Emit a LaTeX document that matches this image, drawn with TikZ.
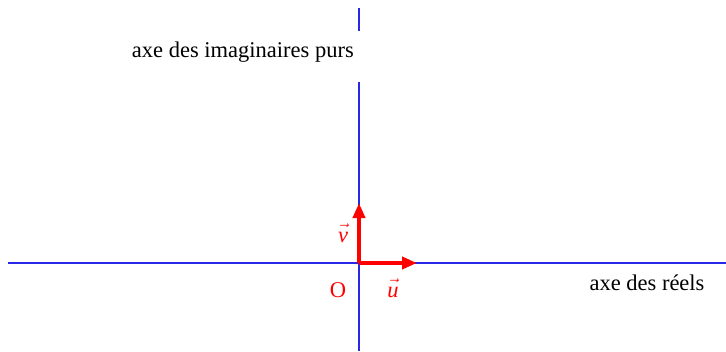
\documentclass[tikz,border=0pt]{standalone}
\usepackage{fontspec}
\setmainfont{Liberation Serif}
\usepackage{xcolor}
\usetikzlibrary{arrows.meta,positioning}
\definecolor{axblue}{RGB}{40,40,230}
\definecolor{vecred}{RGB}{255,0,0}
\newcommand{\vecl}[1]{\ensuremath{\vec{\vphantom{t}\textit{#1}}}}

\begin{document}
\begin{tikzpicture}[x=1pt,y=-1pt,
  axe/.style={axblue, line width=1.4pt},
  vec/.style={-{Triangle[length=15pt,width=12pt]}, vecred, line width=4pt},
  lbl/.style={font=\fontsize{22.5}{24}\selectfont, inner sep=0pt},
  vlbl/.style={font=\fontsize{22.5}{24}\selectfont, vecred, inner sep=0pt}
]
  \useasboundingbox (0,0) rectangle (726,351);
  \coordinate (O) at (359,263);
  \coordinate (W) at (8,263);
  \coordinate (E) at (726,263);
  \coordinate (N) at (359,8);
  \coordinate (S) at (359,351);
  \node[lbl, anchor=east] (im) at (354,52) {axe des imaginaires purs};
  \node[lbl] (re) at (647,283) {axe des réels};
  \coordinate (gapT) at (359,31);
  \coordinate (gapB) at (359,82);
  \draw[axe] (W) -- (E);
  \draw[axe] (N) -- (gapT);
  \draw[axe] (gapB) -- (S);
  \coordinate (U) at (417,263);
  \coordinate (V) at (359,203);
  \draw[vec] (O) -- (U);
  \draw[vec] (O) -- (V);
  \node[lbl, vecred] (o) at (338,290) {O};
  \node[vlbl] (u) at (393,288) {\vecl{u}};
  \node[vlbl] (v) at (343,233) {\vecl{v}};
\end{tikzpicture}
\end{document}
